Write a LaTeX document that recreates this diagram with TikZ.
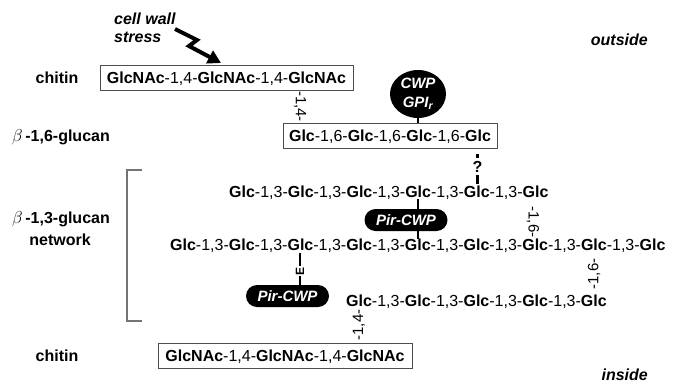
\documentclass[tikz,border=0pt]{standalone}
\usepackage{fontspec}
\setmainfont{Liberation Sans}
\usetikzlibrary{shapes.geometric,arrows.meta}

% sugar residues
\newcommand\gl{\textbf{Glc}}
\newcommand\gn{\textbf{GlcNAc}}
\newcommand\bglyph{{\fontsize{18}{20}\selectfont$\beta$}}

\tikzset{
  big/.style={font=\fontsize{16}{19}\selectfont},
  chainrow/.style={big, inner sep=0pt, anchor=base west},
  polybox/.style={big, draw=black!70, line width=1pt, inner sep=0pt,
    text height=11.5pt, text depth=0pt, minimum height=25pt},
  sidelabel/.style={big, font=\fontsize{16}{19}\selectfont\bfseries, inner sep=0pt, anchor=base},
  sidenote/.style={font=\fontsize{16}{19}\selectfont\bfseries\itshape, inner sep=0pt},
  bondlabel/.style={inner sep=0pt, font=\fontsize{15}{17}\selectfont},
  pill/.style={fill=black, rounded corners=11pt, minimum width=83pt,
    minimum height=22pt, inner sep=0pt, text=white,
    font=\fontsize{15}{18}\selectfont\bfseries\itshape},
  tether/.style={line width=2pt},
}

\begin{document}
\begin{tikzpicture}[x=1pt,y=-1pt]
\useasboundingbox (0,0) rectangle (678,386);

% side labels
\node[sidenote, anchor=base east] (outside) at (648,45.5) {outside};
\node[sidenote, anchor=base east] (inside) at (648,380) {inside};
\node[sidelabel] (chitinA) at (57,83.7) {chitin};
\node[sidelabel] (b16lab) at (61,141.5) {\bglyph\,-1,6-glucan};
\node[sidelabel] (b13lab) at (61,223.7) {\bglyph\,-1,3-glucan};
\node[sidelabel] (netlab) at (60,245.5) {network};
\node[sidelabel] (chitinB) at (57,361.2) {chitin};

% bracket around the beta-1,3-glucan network
\draw[black!55, line width=1.2pt] (142,170) -- (127,170) -- (127,321) -- (142,321);

% stress signal
\node[sidenote, anchor=base west] (cw) at (114,24) {cell wall};
\node[sidenote, anchor=base west] (st) at (114,42) {stress};
\coordinate (zzA) at (175,29);
\coordinate (zzB) at (221,63);
\draw[line width=4pt, line join=miter, -{Triangle[length=13pt,width=14pt]}]
  (zzA) -- (197,40) -- (189,46) -- (zzB);

% chitin and beta-1,6-glucan chains
\node[polybox, minimum width=253pt] (chitinTop) at (226.5,78) {\gn-1,4-\gn-1,4-\gn};
\node[polybox, minimum width=214pt] (b16) at (390,135.5) {\gl-1,6-\gl-1,6-\gl-1,6-\gl};
\node[bondlabel, rotate=-90] (l14a) at (300,106.5) {-1,4-};

% GPI-anchored cell wall protein
\node[ellipse, fill=black, minimum width=56pt, minimum height=48pt, inner sep=0pt,
  text=white, align=center, font=\fontsize{15}{19}\selectfont\bfseries\itshape]
  (cwp) at (418,94) {CWP\\GPI\textsubscript{r}};
\draw[tether] (cwp.south) -- (cwp.south |- b16.north);

% beta-1,3-glucan chains
\node[chainrow] (g1) at (229,197) {\gl-1,3-\gl-1,3-\gl-1,3-\gl-1,3-\gl-1,3-\gl};
\node[chainrow] (g2) at (170,250.7) {\gl-1,3-\gl-1,3-\gl-1,3-\gl-1,3-\gl-1,3-\gl-1,3-\gl-1,3-\gl-1,3-\gl};
\node[chainrow] (g3) at (346,306.7) {\gl-1,3-\gl-1,3-\gl-1,3-\gl-1,3-\gl};
\node[bondlabel, rotate=-90] (l16a) at (533,222) {-1,6-};
\node[bondlabel, rotate=90] (l16b) at (594,274) {-1,6-};

% unknown linkage from beta-1,6-glucan
\node[inner sep=0pt, font=\fontsize{16}{18}\selectfont\bfseries] (q) at (477.5,166.5) {?};
\draw[line width=2.2pt] ([yshift=-5pt]b16.south -| q) -- ([yshift=3pt]q.north);
\draw[line width=2.2pt] ([yshift=-3pt]q.south) -- ([yshift=1pt]q.south |- g1.north);

% Pir-CWP cross-linking two chains
\coordinate (px) at (418,0);
\draw[tether] (px |- g1.south) -- (px |- g2.north);
\node[pill] (pirA) at (406,220) {Pir-CWP};

% Pir-CWP attached through an ester bond
\node[pill] (pirB) at (287.5,296) {Pir-CWP};
\coordinate (ex) at (300,0);
\draw[line width=1.6pt] (ex |- g2.south) -- (ex |- pirB.north);
\node[fill=white, inner sep=0.8pt, rotate=90, font=\fontsize{12}{14}\selectfont\bfseries] (ester) at (300,271) {E};

% inner chitin layer
\node[polybox, minimum width=254pt] (chitinBot) at (285,355.5) {\gn-1,4-\gn-1,4-\gn};
\node[bondlabel, rotate=90] (l14b) at (359,325) {-1,4-};
\end{tikzpicture}
\end{document}
